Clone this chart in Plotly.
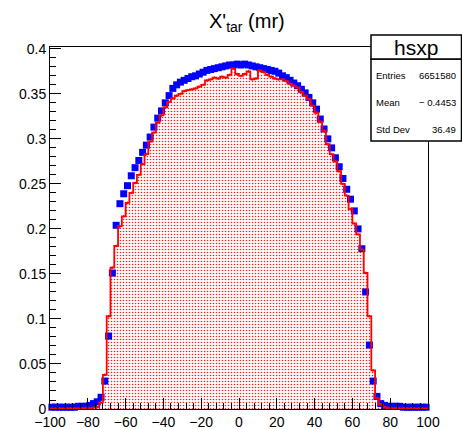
import plotly.graph_objects as go

# ---------------- data ----------------
bin_edges = list(range(-100, 101, 2))          # 100 bins of 2 mr
bin_centers = list(range(-99, 100, 2))

blue_vals = [
    0.002, 0.002, 0.002, 0.002, 0.002, 0.002, 0.002, 0.003, 0.003, 0.003,   # -99..-81
    0.004, 0.006, 0.008, 0.013, 0.031, 0.081, 0.151, 0.204, 0.228, 0.239,   # -79..-61
    0.248, 0.259, 0.268, 0.276, 0.285, 0.293, 0.302, 0.313, 0.323, 0.331,   # -59..-41
    0.340, 0.348, 0.356, 0.360, 0.363, 0.365, 0.367, 0.369, 0.370, 0.372,   # -39..-21
    0.374, 0.376, 0.377, 0.378, 0.379, 0.380, 0.381, 0.382, 0.382, 0.383,   # -19..-1
    0.382, 0.383, 0.382, 0.381, 0.380, 0.379, 0.378, 0.377, 0.376, 0.375,   # 1..19
    0.373, 0.370, 0.368, 0.365, 0.362, 0.359, 0.355, 0.351, 0.346, 0.340,   # 21..39
    0.333, 0.322, 0.311, 0.300, 0.290, 0.279, 0.269, 0.256, 0.244, 0.233,   # 41..59
    0.220, 0.200, 0.178, 0.130, 0.071, 0.031, 0.014, 0.006, 0.004, 0.003,   # 61..79
    0.003, 0.003, 0.003, 0.002, 0.002, 0.002, 0.002, 0.002, 0.002, 0.002,   # 81..99
]

red_vals = [
    0.0005, 0.0005, 0.0005, 0.0005, 0.0005, 0.0006, 0.0006, 0.0007, 0.0008, 0.0009,  # -99..-81
    0.001, 0.0015, 0.002, 0.007, 0.038, 0.103, 0.157, 0.181, 0.203, 0.214,         # -79..-61
    0.229, 0.240, 0.251, 0.260, 0.272, 0.283, 0.297, 0.307, 0.318, 0.326,           # -59..-41
    0.335, 0.341, 0.345, 0.348, 0.350, 0.353, 0.354, 0.355, 0.356, 0.358,           # -39..-21
    0.360, 0.365, 0.366, 0.368, 0.367, 0.369, 0.368, 0.371, 0.378, 0.372,           # -19..-1
    0.370, 0.372, 0.375, 0.366, 0.367, 0.376, 0.374, 0.371, 0.369, 0.367,           # 1..19
    0.366, 0.366, 0.364, 0.361, 0.359, 0.357, 0.352, 0.348, 0.344, 0.337,           # 21..39
    0.329, 0.319, 0.309, 0.294, 0.283, 0.275, 0.264, 0.250, 0.237, 0.222,           # 41..59
    0.206, 0.194, 0.177, 0.151, 0.103, 0.043, 0.012, 0.005, 0.002, 0.001,           # 61..79
    0.001, 0.0009, 0.0008, 0.0007, 0.0006, 0.0006, 0.0005, 0.0005, 0.0005, 0.0005,  # 81..99
]
red_err = [0.0015] * len(red_vals)

title_text = "X'<sub>tar</sub> (mr)"
stats_name = "hsxp"
stats_labels = ["Entries", "Mean", "Std Dev"]
stats_values = ["6651580", "\u2212 0.4453", "36.49"]

# ---------------- layout geometry ----------------
W, H = 462, 429
ML, MR, MT, MB = 50, 34, 47, 20
PW, PH = W - ML - MR, H - MT - MB


def px(x):
    return (x - ML) / PW


def py(y):
    return 1 - (y - MT) / PH


FONT = "Liberation Sans, Arial, Helvetica, sans-serif"

fig = go.Figure()

# red histogram fill (dotted pattern)
fig.add_trace(go.Scatter(
    x=bin_edges, y=red_vals + [red_vals[-1]],
    mode="lines", line=dict(width=0, shape="hv", color="red"),
    fill="tozeroy", fillcolor="white",
    fillpattern=dict(shape=".", fgcolor="#ff2020", bgcolor="white", size=3, solidity=0.22),
    hoverinfo="skip", showlegend=False,
))

# blue markers
fig.add_trace(go.Scatter(
    x=bin_centers, y=blue_vals, mode="markers",
    marker=dict(symbol="square", size=7, color="#0000ff", line=dict(width=0)),
    cliponaxis=False, showlegend=False,
))

# red outline
fig.add_trace(go.Scatter(
    x=bin_edges, y=red_vals + [red_vals[-1]],
    mode="lines", line=dict(width=1.8, shape="hv", color="red"),
    showlegend=False,
))
fig.add_trace(go.Scatter(
    x=bin_centers, y=red_vals, mode="markers",
    marker=dict(size=1, color="red"),
    error_y=dict(type="data", array=red_err, width=0, color="red", thickness=1),
    showlegend=False,
))

axis_common = dict(
    showline=True, linecolor="black", linewidth=1, mirror=True,
    ticks="inside", tickcolor="black", ticklen=11, tickwidth=1,
    showgrid=False, zeroline=False, automargin=False,
    tickfont=dict(family=FONT, size=14, color="black"),
)

fig.update_xaxes(range=[-100, 100], tickmode="linear", tick0=-100, dtick=20,
                 minor=dict(ticks="inside", ticklen=6, dtick=4, tick0=-100,
                            tickcolor="black", showgrid=False),
                 **axis_common)
fig.update_yaxes(range=[0, 0.402], tickmode="linear", tick0=0, dtick=0.05,
                 minor=dict(ticks="inside", ticklen=6, dtick=0.01, tick0=0,
                            tickcolor="black", showgrid=False),
                 **axis_common)

# stats box
shapes = [
    dict(type="rect", xref="paper", yref="paper", x0=px(371), x1=px(461.5),
         y0=py(141), y1=py(59), line=dict(color="black", width=1.5),
         fillcolor="white", layer="above"),
    dict(type="rect", xref="paper", yref="paper", x0=px(371), x1=px(461.5),
         y0=py(59), y1=py(35), line=dict(color="black", width=1.5),
         fillcolor="white", layer="above"),
]

annotations = [
    dict(text=title_text, xref="paper", yref="paper", x=px(247), y=py(22),
         xanchor="center", yanchor="middle", showarrow=False,
         font=dict(family=FONT, size=20, color="black")),
    dict(text=stats_name, xref="paper", yref="paper", x=px(416), y=py(47),
         xanchor="center", yanchor="middle", showarrow=False,
         font=dict(family=FONT, size=21, color="black")),
]
rows_y = [75, 102, 129]
for lab, val, yy in zip(stats_labels, stats_values, rows_y):
    annotations.append(dict(text=lab, xref="paper", yref="paper", x=px(374), y=py(yy),
                            xanchor="left", yanchor="middle", showarrow=False,
                            font=dict(family=FONT, size=9.5, color="black")))
    annotations.append(dict(text=val, xref="paper", yref="paper", x=px(458), y=py(yy),
                            xanchor="right", yanchor="middle", showarrow=False,
                            font=dict(family=FONT, size=9.5, color="black")))

fig.update_layout(
    width=W, height=H, margin=dict(l=ML, r=MR, t=MT, b=MB, pad=0),
    paper_bgcolor="white", plot_bgcolor="white",
    shapes=shapes, annotations=annotations, showlegend=False,
    template="none",
)

fig.write_html("out.html")
